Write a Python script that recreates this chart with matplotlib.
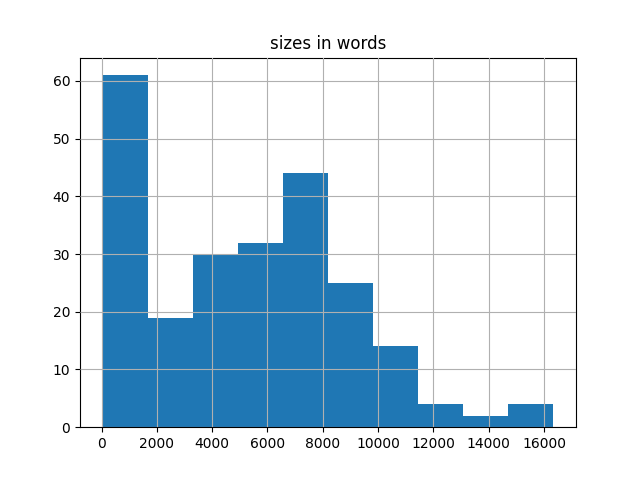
import numpy as np
import matplotlib
matplotlib.use("Agg")
import matplotlib.pyplot as plt

# histogram of document sizes
size_min = 36
size_max = 16340
counts = [61, 19, 30, 32, 44, 25, 14, 4, 2, 4]

edges = np.linspace(size_min, size_max, len(counts) + 1)

fig, ax = plt.subplots(figsize=(6.4, 4.8), dpi=100)
ax.hist(edges[:-1], bins=edges, weights=counts, color="#1f77b4")
ax.grid(True)
ax.set_axisbelow(False)
ax.set_title("sizes in words")

fig.savefig("out.png")
